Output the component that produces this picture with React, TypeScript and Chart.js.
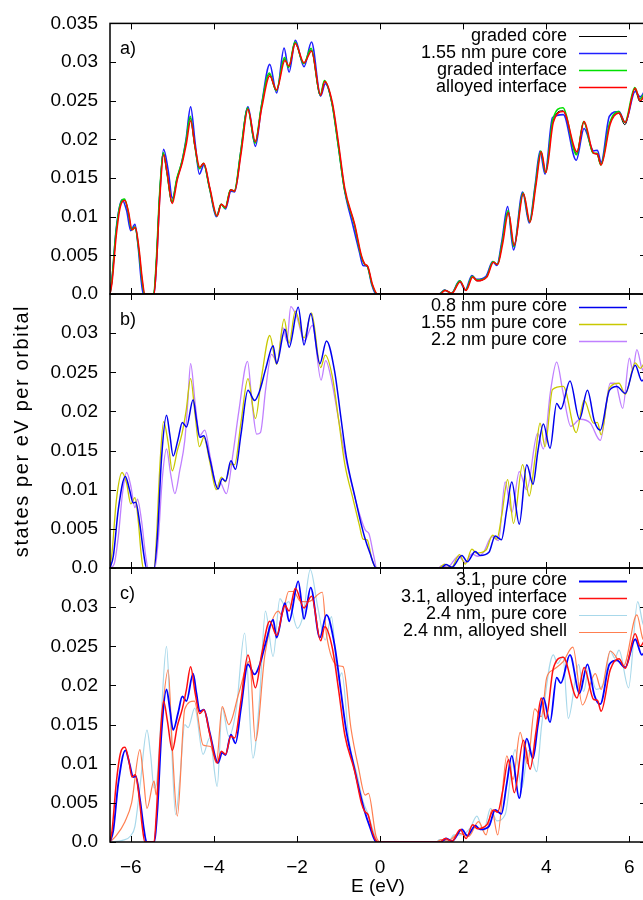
import React, { useEffect, useRef } from "react";
import { Chart, registerables } from "chart.js";

Chart.register(...registerables);

type Pt = [number, number];

// ---- axis ticks ----
const xTickValues = [-6, -4, -2, 0, 2, 4, 6];
const yTickValues = [0, 0.005, 0.01, 0.015, 0.02, 0.025, 0.03, 0.035];

// ---- panel a ----
const gradedCoreA: Pt[] = [[-6.5,0],[-6.46,0.0015],[-6.36,0.0077],[-6.26,0.0114],[-6.15,0.0122],[-6.06,0.0105],[-5.98,0.0083],[-5.90,0.0086],[-5.81,0.0058],[-5.73,0.0018],[-5.67,0],[-5.45,0],[-5.39,0.004],[-5.31,0.0126],[-5.22,0.0182],[-5.13,0.0156],[-5.01,0.0118],[-4.89,0.0149],[-4.77,0.0170],[-4.67,0.0197],[-4.57,0.0228],[-4.46,0.0191],[-4.35,0.0163],[-4.25,0.0169],[-4.11,0.0138],[-3.93,0.0101],[-3.83,0.0116],[-3.73,0.0111],[-3.60,0.0135],[-3.51,0.0133],[-3.36,0.0181],[-3.19,0.0240],[-3.01,0.0196],[-2.86,0.0241],[-2.665,0.0284],[-2.50,0.0263],[-2.30,0.0304],[-2.20,0.0294],[-2.05,0.0325],[-1.84,0.0298],[-1.66,0.0316],[-1.44,0.0257],[-1.34,0.0275],[-1.16,0.0247],[-1.01,0.0194],[-0.86,0.0136],[-0.62,0.0090],[-0.46,0.0050],[-0.38,0.0039],[-0.30,0.0035],[-0.19,0.0012],[-0.07,0],[1.43,0],[1.555,0.0005],[1.72,0.0001],[1.92,0.0016],[2.06,0.0005],[2.22,0.0022],[2.33,0.0017],[2.56,0.0022],[2.72,0.0041],[2.82,0.0038],[2.94,0.0066],[3.08,0.0106],[3.22,0.0062],[3.44,0.0130],[3.60,0.0093],[3.74,0.0140],[3.87,0.0184],[3.98,0.0157],[4.16,0.0224],[4.40,0.0237],[4.73,0.0182],[4.90,0.0222],[5.13,0.0182],[5.22,0.0181],[5.31,0.0167],[5.53,0.0221],[5.74,0.0234],[5.89,0.0219],[6.13,0.0265],[6.25,0.0249],[6.4,0.0261]];

const pureCore155: Pt[] = [[-6.5,0],[-6.45,0.002],[-6.35,0.0085],[-6.21,0.0122],[-6.1,0.0108],[-6.0,0.0082],[-5.90,0.0090],[-5.82,0.006],[-5.75,0.0018],[-5.70,0],[-5.44,0],[-5.38,0.004],[-5.3,0.0130],[-5.21,0.0187],[-5.1,0.0160],[-5.0,0.0124],[-4.88,0.0150],[-4.77,0.0171],[-4.67,0.0200],[-4.56,0.0242],[-4.45,0.0195],[-4.35,0.0155],[-4.24,0.0167],[-4.1,0.0136],[-3.94,0.0100],[-3.82,0.0116],[-3.72,0.0110],[-3.59,0.0133],[-3.50,0.0132],[-3.35,0.0185],[-3.18,0.0242],[-3.0,0.0191],[-2.85,0.0245],[-2.655,0.0297],[-2.49,0.0260],[-2.31,0.0318],[-2.19,0.0287],[-2.04,0.0328],[-1.83,0.0294],[-1.65,0.0326],[-1.43,0.0256],[-1.32,0.0272],[-1.15,0.0245],[-1.0,0.0190],[-0.85,0.0133],[-0.65,0.0088],[-0.5,0.0055],[-0.41,0.0037],[-0.31,0.0036],[-0.2,0.0012],[-0.1,0],[1.42,0],[1.55,0.0005],[1.72,0.0001],[1.91,0.0017],[2.05,0.0005],[2.21,0.0024],[2.32,0.0019],[2.55,0.0023],[2.71,0.0042],[2.81,0.0037],[2.93,0.0068],[3.07,0.0113],[3.21,0.0057],[3.43,0.0132],[3.59,0.0092],[3.73,0.0140],[3.85,0.0185],[3.97,0.0155],[4.15,0.0228],[4.41,0.0232],[4.72,0.0173],[4.91,0.0214],[5.14,0.0185],[5.23,0.0186],[5.32,0.0170],[5.52,0.0230],[5.75,0.0236],[5.9,0.0222],[6.14,0.0262],[6.26,0.0255],[6.4,0.0266]];

const gradedInterfaceA: Pt[] = [[-6.5,0],[-6.46,0.0015],[-6.36,0.0078],[-6.26,0.0115],[-6.15,0.0123],[-6.06,0.0106],[-5.98,0.0083],[-5.90,0.0087],[-5.81,0.0058],[-5.73,0.0018],[-5.67,0],[-5.45,0],[-5.39,0.004],[-5.31,0.0127],[-5.22,0.0183],[-5.13,0.0157],[-5.01,0.0119],[-4.89,0.0150],[-4.77,0.0171],[-4.67,0.0198],[-4.57,0.0230],[-4.46,0.0192],[-4.35,0.0162],[-4.25,0.0169],[-4.11,0.0138],[-3.93,0.0101],[-3.83,0.0116],[-3.73,0.0111],[-3.60,0.0135],[-3.51,0.0133],[-3.36,0.0182],[-3.19,0.0241],[-3.01,0.0195],[-2.86,0.0242],[-2.665,0.0286],[-2.50,0.0263],[-2.30,0.0306],[-2.20,0.0293],[-2.05,0.0326],[-1.84,0.0298],[-1.66,0.0318],[-1.44,0.0257],[-1.34,0.0276],[-1.16,0.0247],[-1.01,0.0193],[-0.86,0.0136],[-0.62,0.0090],[-0.46,0.0050],[-0.38,0.0039],[-0.30,0.0035],[-0.19,0.0012],[-0.07,0],[1.43,0],[1.555,0.0005],[1.72,0.0001],[1.92,0.0017],[2.06,0.0005],[2.22,0.0023],[2.33,0.0018],[2.56,0.0022],[2.72,0.0042],[2.82,0.0038],[2.94,0.0067],[3.08,0.0108],[3.22,0.0061],[3.44,0.0131],[3.60,0.0093],[3.74,0.0141],[3.87,0.0185],[3.98,0.0157],[4.16,0.0226],[4.40,0.0241],[4.73,0.0180],[4.90,0.0223],[5.13,0.0182],[5.22,0.0182],[5.31,0.0167],[5.53,0.0222],[5.74,0.0236],[5.89,0.0222],[6.13,0.0267],[6.25,0.0252],[6.4,0.0264]];

const alloyedInterface: Pt[] = [[-6.5,0],[-6.45,0.0015],[-6.35,0.0075],[-6.25,0.0113],[-6.14,0.0121],[-6.05,0.0105],[-5.97,0.0083],[-5.89,0.0086],[-5.80,0.0058],[-5.72,0.0018],[-5.66,0],[-5.44,0],[-5.38,0.004],[-5.3,0.0125],[-5.21,0.0180],[-5.12,0.0155],[-5.0,0.0117],[-4.88,0.0148],[-4.76,0.0170],[-4.66,0.0195],[-4.56,0.0224],[-4.45,0.0190],[-4.34,0.0164],[-4.24,0.0169],[-4.1,0.0138],[-3.92,0.0101],[-3.82,0.0116],[-3.72,0.0112],[-3.59,0.0135],[-3.50,0.0133],[-3.35,0.0180],[-3.18,0.0239],[-3.0,0.0197],[-2.85,0.0240],[-2.655,0.0282],[-2.49,0.0264],[-2.29,0.0302],[-2.19,0.0295],[-2.04,0.0324],[-1.83,0.0299],[-1.65,0.0314],[-1.43,0.0257],[-1.33,0.0275],[-1.15,0.0248],[-1.0,0.0195],[-0.85,0.0137],[-0.61,0.0090],[-0.45,0.0050],[-0.37,0.0039],[-0.29,0.0035],[-0.18,0.0012],[-0.06,0],[1.44,0],[1.565,0.00045],[1.73,0.0001],[1.93,0.0016],[2.07,0.00045],[2.23,0.0022],[2.34,0.0017],[2.57,0.0022],[2.73,0.0041],[2.83,0.0038],[2.95,0.0065],[3.09,0.0105],[3.23,0.0063],[3.45,0.0130],[3.61,0.0093],[3.75,0.0140],[3.88,0.0184],[3.99,0.0157],[4.17,0.0222],[4.41,0.0236],[4.74,0.0184],[4.91,0.0223],[5.14,0.0182],[5.23,0.0181],[5.32,0.0167],[5.54,0.0220],[5.75,0.0234],[5.9,0.0222],[6.14,0.0266],[6.26,0.0250],[6.4,0.0262]];

// ---- panel b ----
const pureCore08: Pt[] = [[-6.5,0],[-6.42,0.0015],[-6.3,0.0075],[-6.13,0.0117],[-6.03,0.0100],[-5.94,0.0083],[-5.88,0.0084],[-5.78,0.0055],[-5.68,0.0015],[-5.62,0],[-5.44,0],[-5.36,0.004],[-5.26,0.0140],[-5.14,0.0195],[-5.06,0.0170],[-4.98,0.0143],[-4.86,0.0165],[-4.76,0.0186],[-4.66,0.0180],[-4.50,0.0215],[-4.42,0.0190],[-4.34,0.0167],[-4.24,0.0169],[-4.1,0.0140],[-3.90,0.0101],[-3.80,0.0114],[-3.72,0.0111],[-3.59,0.0137],[-3.48,0.0126],[-3.35,0.0170],[-3.18,0.0227],[-3.02,0.0214],[-2.90,0.0226],[-2.75,0.0255],[-2.575,0.0284],[-2.49,0.0261],[-2.29,0.0305],[-2.19,0.0282],[-1.97,0.0333],[-1.83,0.0285],[-1.67,0.0325],[-1.45,0.0261],[-1.29,0.0290],[-1.09,0.0250],[-0.95,0.0195],[-0.81,0.0141],[-0.61,0.0092],[-0.45,0.0055],[-0.37,0.0039],[-0.25,0.0020],[-0.09,0],[1.46,0],[1.59,0.00045],[1.73,0.0001],[1.97,0.0016],[2.10,0.0008],[2.29,0.0021],[2.41,0.0016],[2.62,0.0020],[2.77,0.0041],[2.92,0.0036],[3.05,0.0075],[3.17,0.0110],[3.35,0.0056],[3.53,0.0132],[3.68,0.0107],[3.80,0.0150],[3.93,0.0184],[4.09,0.0153],[4.25,0.0210],[4.35,0.0203],[4.57,0.0239],[4.80,0.0190],[4.99,0.0227],[5.16,0.0187],[5.30,0.0176],[5.52,0.0227],[5.70,0.0232],[5.90,0.0223],[6.14,0.0259],[6.30,0.0239],[6.4,0.0245]];

const pureCore22: Pt[] = [[-6.5,0],[-6.4,0.0005],[-6.3,0.004],[-6.2,0.0095],[-6.10,0.0122],[-6.0,0.0105],[-5.90,0.0077],[-5.84,0.0088],[-5.74,0.0060],[-5.64,0.0015],[-5.58,0],[-5.42,0],[-5.34,0.0035],[-5.24,0.0115],[-5.14,0.0152],[-5.04,0.0120],[-4.94,0.0095],[-4.82,0.0125],[-4.70,0.0163],[-4.63,0.0210],[-4.56,0.0261],[-4.45,0.0210],[-4.34,0.0169],[-4.22,0.0176],[-4.08,0.0140],[-3.92,0.0103],[-3.86,0.0110],[-3.70,0.0095],[-3.54,0.0146],[-3.4,0.0200],[-3.19,0.0264],[-3.08,0.0210],[-2.97,0.0171],[-2.88,0.0173],[-2.75,0.0230],[-2.615,0.0273],[-2.47,0.0263],[-2.34,0.0307],[-2.24,0.0290],[-2.15,0.0334],[-2.0,0.0320],[-1.82,0.0290],[-1.63,0.0310],[-1.42,0.0240],[-1.31,0.0265],[-1.15,0.0235],[-1.0,0.0190],[-0.85,0.0146],[-0.70,0.0110],[-0.50,0.0070],[-0.35,0.0048],[-0.27,0.0044],[-0.15,0.0015],[-0.08,0],[1.40,0],[1.48,0.0003],[1.62,0.0001],[1.89,0.0015],[2.05,0.0007],[2.21,0.0018],[2.35,0.0015],[2.49,0.0020],[2.69,0.0040],[2.85,0.0035],[3.01,0.0110],[3.17,0.0071],[3.35,0.0123],[3.53,0.0100],[3.79,0.0172],[3.93,0.0152],[4.10,0.0225],[4.25,0.0263],[4.40,0.0225],[4.59,0.0181],[4.82,0.0190],[5.06,0.0185],[5.30,0.0163],[5.54,0.0236],[5.66,0.0236],[5.84,0.0204],[6.0,0.0268],[6.08,0.0253],[6.18,0.0279],[6.3,0.0255],[6.4,0.0250]];

// ---- panel c ----
const pureCore24: Pt[] = [[-6.5,0],[-6.2,0.0002],[-6.0,0.0008],[-5.9,0.002],[-5.78,0.007],[-5.61,0.0143],[-5.52,0.011],[-5.44,0.0069],[-5.38,0.0075],[-5.28,0.015],[-5.14,0.0250],[-5.04,0.015],[-4.92,0.0035],[-4.82,0.0080],[-4.70,0.0150],[-4.62,0.0146],[-4.46,0.0171],[-4.26,0.0112],[-4.10,0.0133],[-3.92,0.0071],[-3.80,0.0171],[-3.64,0.0135],[-3.46,0.0170],[-3.26,0.0267],[-3.06,0.0107],[-2.9,0.0183],[-2.76,0.0295],[-2.575,0.0237],[-2.41,0.0311],[-2.3,0.0303],[-2.2,0.0307],[-1.99,0.0273],[-1.85,0.0290],[-1.68,0.0348],[-1.5,0.0300],[-1.32,0.0258],[-1.17,0.0288],[-1.01,0.0207],[-0.92,0.0216],[-0.75,0.0130],[-0.55,0.0085],[-0.41,0.0052],[-0.3,0.0037],[-0.15,0.0012],[-0.05,0],[1.35,0],[1.43,0.0003],[1.65,0.0001],[1.78,0.0009],[1.97,0.0009],[2.17,0.0018],[2.33,0.0033],[2.49,0.0014],[2.66,0.0043],[2.81,0.0027],[3.01,0.0035],[3.25,0.0118],[3.41,0.0069],[3.57,0.0117],[3.77,0.0090],[3.89,0.0150],[4.17,0.0239],[4.27,0.0228],[4.40,0.0237],[4.53,0.0158],[4.78,0.0227],[4.90,0.0192],[5.02,0.0222],[5.20,0.0195],[5.40,0.0205],[5.54,0.0244],[5.65,0.0235],[5.75,0.0245],[5.98,0.0197],[6.20,0.0307],[6.32,0.0280],[6.4,0.0270]];

const alloyedShell24: Pt[] = [[-6.5,0],[-6.35,0.0008],[-6.14,0.0026],[-5.98,0.0050],[-5.78,0.0118],[-5.70,0.0085],[-5.61,0.0043],[-5.44,0.0078],[-5.39,0.0060],[-5.25,0.0160],[-5.10,0.0220],[-5.0,0.012],[-4.88,0.0033],[-4.7,0.0170],[-4.47,0.0180],[-4.26,0.0124],[-4.08,0.0122],[-3.94,0.0101],[-3.80,0.0173],[-3.64,0.0150],[-3.4,0.0190],[-3.14,0.0231],[-3.0,0.0129],[-2.77,0.0240],[-2.45,0.0295],[-2.37,0.0290],[-2.2,0.0320],[-2.08,0.0320],[-1.91,0.0307],[-1.73,0.0307],[-1.39,0.0319],[-1.29,0.0265],[-1.01,0.0225],[-0.89,0.0224],[-0.70,0.0145],[-0.52,0.0095],[-0.36,0.0060],[-0.28,0.0062],[-0.1,0.0008],[0.0,0],[1.35,0],[1.48,0.0003],[1.62,0.0001],[1.91,0.0011],[2.13,0.0007],[2.37,0.0026],[2.55,0.0009],[2.69,0.0041],[2.83,0.0009],[3.05,0.0110],[3.2,0.0080],[3.37,0.0140],[3.55,0.0100],[3.72,0.0170],[3.88,0.0160],[4.01,0.0210],[4.17,0.0220],[4.40,0.0230],[4.64,0.0249],[4.87,0.0175],[5.18,0.0215],[5.32,0.0195],[5.54,0.0244],[5.86,0.0225],[6.18,0.0290],[6.32,0.0260],[6.4,0.0255]];

// ---- legends / labels ----
const legendA = ["graded core", "1.55 nm pure core", "graded interface", "alloyed interface"];
const legendB = ["0.8 nm pure core", "1.55 nm pure core", "2.2 nm pure core"];
const legendC = ["3.1, pure core", "3.1, alloyed interface", "2.4 nm, pure core", "2.4 nm, alloyed shell"];
const panelLabels = ["a)", "b)", "c)"];
const xTitle = "E (eV)";
const yTitle = "states per eV per orbital";

const FONT = "'Liberation Sans', Arial, Helvetica, sans-serif";

type SeriesDef = { data: Pt[]; label: string; color: string; width: number; order: number };

const panels: { top: number; bottom: number; label: string; showTop: boolean; showX: boolean; yTitle: boolean; series: SeriesDef[] }[] = [
  {
    top: 20, bottom: 294, label: panelLabels[0], showTop: true, showX: false, yTitle: false,
    series: [
      { data: gradedCoreA, label: legendA[0], color: "#000000", width: 1, order: 3 },
      { data: pureCore155, label: legendA[1], color: "#2020ff", width: 1.6, order: 2 },
      { data: gradedInterfaceA, label: legendA[2], color: "#00e000", width: 1.5, order: 1 },
      { data: alloyedInterface, label: legendA[3], color: "#ff0000", width: 1.5, order: 0 },
    ],
  },
  {
    top: 294, bottom: 568, label: panelLabels[1], showTop: false, showX: false, yTitle: true,
    series: [
      { data: pureCore08, label: legendB[0], color: "#0000ee", width: 1.5, order: 0 },
      { data: pureCore155, label: legendB[1], color: "#c8c800", width: 1.3, order: 1 },
      { data: pureCore22, label: legendB[2], color: "#c080ff", width: 1.3, order: 2 },
    ],
  },
  {
    top: 568, bottom: 842, label: panelLabels[2], showTop: false, showX: true, yTitle: false,
    series: [
      { data: pureCore08, label: legendC[0], color: "#0000ff", width: 1.8, order: 1 },
      { data: alloyedInterface, label: legendC[1], color: "#ff1010", width: 1.5, order: 0 },
      { data: pureCore24, label: legendC[2], color: "#a8d8ea", width: 1.2, order: 3 },
      { data: alloyedShell24, label: legendC[3], color: "#ff7f50", width: 1.2, order: 2 },
    ],
  },
];

const CANVAS_W = 660;
const CANVAS_H = 900;

const framePlugin = {
  id: "gnuFrame",
  afterDatasetsDraw(chart: any, _args: any, opts: any) {
    const { ctx, chartArea: a, scales } = chart;
    const xs = scales.x;
    const ys = scales.y;
    ctx.save();
    ctx.strokeStyle = "#000";
    ctx.lineWidth = 1.5;
    ctx.strokeRect(a.left, a.top, a.right - a.left, a.bottom - a.top);
    ctx.lineWidth = 1;
    ctx.beginPath();
    const tl = 6;
    for (const v of xTickValues) {
      const px = Math.round(xs.getPixelForValue(v)) + 0.5;
      ctx.moveTo(px, a.bottom);
      ctx.lineTo(px, a.bottom - tl);
      ctx.moveTo(px, a.top);
      ctx.lineTo(px, a.top + tl);
    }
    for (const v of yTickValues) {
      const py = Math.round(ys.getPixelForValue(v)) + 0.5;
      ctx.moveTo(a.left, py);
      ctx.lineTo(a.left + tl, py);
      ctx.moveTo(a.right, py);
      ctx.lineTo(a.right - tl, py);
    }
    ctx.stroke();
    ctx.fillStyle = "#000";
    ctx.font = `18px ${FONT}`;
    ctx.textBaseline = "middle";
    ctx.textAlign = "left";
    ctx.fillText(opts.label, a.left + 10, a.top + 26);
    ctx.textAlign = "right";
    opts.entries.forEach((e: SeriesDef, i: number) => {
      const yy = a.top + 12.5 + i * 17;
      ctx.fillStyle = "#000";
      ctx.fillText(e.label, 567, yy);
      ctx.strokeStyle = e.color;
      ctx.lineWidth = e.width;
      ctx.beginPath();
      ctx.moveTo(579, Math.round(yy) + 0.5);
      ctx.lineTo(627, Math.round(yy) + 0.5);
      ctx.stroke();
    });
    if (opts.yTitle) {
      ctx.save();
      ctx.translate(22, (a.top + a.bottom) / 2);
      ctx.rotate(-Math.PI / 2);
      ctx.font = `20px ${FONT}`;
      (ctx as any).letterSpacing = "1.6px";
      ctx.textAlign = "center";
      ctx.textBaseline = "middle";
      ctx.fillStyle = "#000";
      ctx.fillText(yTitle, 0, 0);
      ctx.restore();
    }
    ctx.restore();
  },
};

function fmtY(v: number): string {
  if (Math.abs(v) < 1e-9) return "0.0";
  return String(parseFloat(v.toFixed(3)));
}

function fmtX(v: number): string {
  return v < 0 ? "\u2212" + Math.abs(v) : String(v);
}

function Panel({ idx }: { idx: number }) {
  const ref = useRef<HTMLCanvasElement | null>(null);
  useEffect(() => {
    const p = panels[idx];
    const canvas = ref.current!;
    const chart = new Chart(canvas, {
      type: "line",
      data: {
        datasets: p.series.map((s) => ({
          label: s.label,
          data: s.data.map(([x, y]) => ({ x, y })),
          borderColor: s.color,
          borderWidth: s.width,
          pointRadius: 0,
          fill: false,
          cubicInterpolationMode: "monotone" as const,
          order: s.order,
        })),
      },
      options: {
        animation: false,
        responsive: false,
        devicePixelRatio: 1,
        events: [],
        layout: {
          padding: { top: p.top, bottom: p.showX ? 0 : CANVAS_H - p.bottom, left: 0, right: 14 },
        },
        plugins: {
          legend: { display: false },
          tooltip: { enabled: false },
          gnuFrame: { label: p.label, entries: p.series, yTitle: p.yTitle },
        } as any,
        scales: {
          x: {
            type: "linear",
            min: -6.5,
            max: 6.4,
            display: p.showX,
            afterBuildTicks: (s: any) => {
              s.ticks = xTickValues.map((value) => ({ value }));
            },
            afterFit: (s: any) => {
              s.height = p.showX ? 58 : 0;
            },
            grid: { display: false, drawTicks: false },
            border: { display: false },
            ticks: {
              padding: 14,
              color: "#000",
              font: { family: FONT, size: 19 },
              maxRotation: 0,
              callback: (v: any) => fmtX(Number(v)),
            },
            title: {
              display: p.showX,
              text: xTitle,
              color: "#000",
              font: { family: FONT, size: 19 },
              padding: { top: 0, bottom: 2 },
            },
          },
          y: {
            type: "linear",
            min: 0,
            max: 0.035,
            afterBuildTicks: (s: any) => {
              s.ticks = yTickValues.map((value) => ({ value }));
            },
            afterFit: (s: any) => {
              s.width = 110;
            },
            grid: { display: false, drawTicks: false },
            border: { display: false },
            ticks: {
              padding: 12,
              color: "#000",
              font: { family: FONT, size: 19 },
              callback: (v: any) => {
                const n = Number(v);
                if (!p.showTop && n > 0.0349) return "";
                return fmtY(n);
              },
            },
          },
        },
      },
      plugins: [framePlugin],
    } as any);
    return () => chart.destroy();
  }, [idx]);
  return (
    <canvas
      ref={ref}
      width={CANVAS_W}
      height={CANVAS_H}
      style={{ position: "absolute", left: 0, top: 0, width: CANVAS_W, height: CANVAS_H }}
    />
  );
}

export default function App() {
  return (
    <div
      style={{
        position: "absolute",
        left: 0,
        top: 0,
        width: 643,
        height: 900,
        overflow: "hidden",
        background: "#fff",
      }}
    >
      <Panel idx={0} />
      <Panel idx={1} />
      <Panel idx={2} />
    </div>
  );
}
